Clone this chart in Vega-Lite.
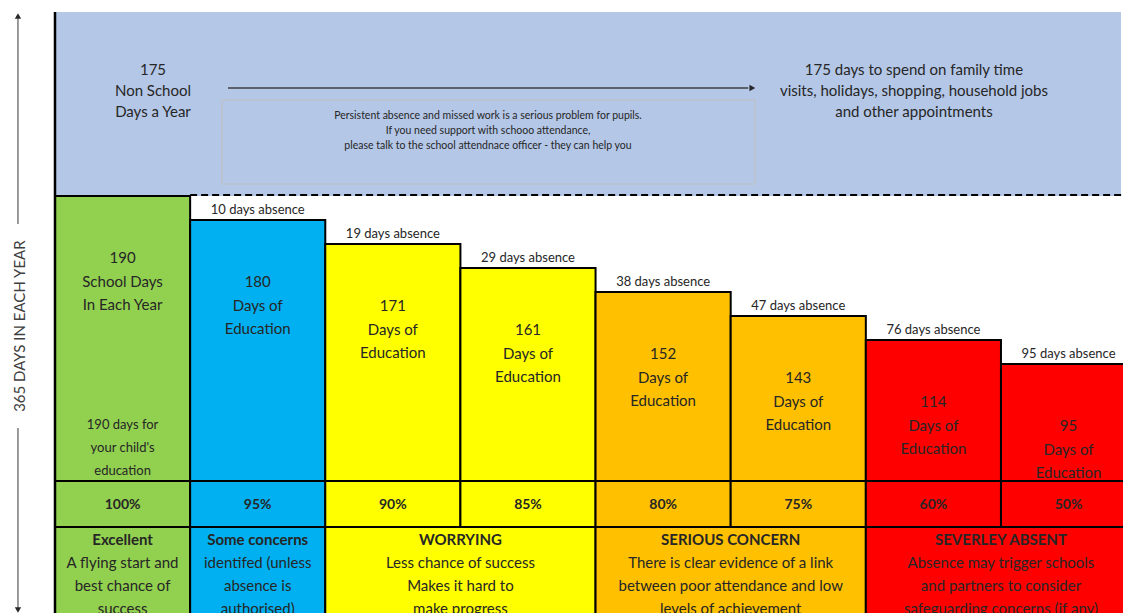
{
  "$schema": "https://vega.github.io/schema/vega-lite/v6.json",
  "autosize": {"type": "fit", "contains": "padding"},
  "width": 1123,
  "height": 613,
  "padding": 0,
  "background": "white",
  "view": {"stroke": null},
  "config": {"font": "Lato", "text": {"color": "#262626", "font": "Lato"}},
  "datasets": {
    "cols": [
      {"col": 0, "level": 0, "days": 190, "band": "Excellent", "pct": "100%", "label": "190\nSchool Days\nIn Each Year", "absence": ""},
      {"col": 1, "level": 1, "days": 180, "band": "Some concerns", "pct": "95%", "label": "180\nDays of\nEducation", "absence": "10 days absence"},
      {"col": 2, "level": 2, "days": 171, "band": "Worrying", "pct": "90%", "label": "171\nDays of\nEducation", "absence": "19 days absence"},
      {"col": 3, "level": 3, "days": 161, "band": "Worrying", "pct": "85%", "label": "161\nDays of\nEducation", "absence": "29 days absence"},
      {"col": 4, "level": 4, "days": 152, "band": "Serious concern", "pct": "80%", "label": "152\nDays of\nEducation", "absence": "38 days absence"},
      {"col": 5, "level": 5, "days": 143, "band": "Serious concern", "pct": "75%", "label": "143\nDays of\nEducation", "absence": "47 days absence"},
      {"col": 6, "level": 6, "days": 114, "band": "Severely absent", "pct": "60%", "label": "114\nDays of\nEducation", "absence": "76 days absence"},
      {"col": 7, "level": 7, "days": 95, "band": "Severely absent", "pct": "50%", "label": "95\nDays of\nEducation", "absence": "95 days absence"}
    ],
    "bands": [
      {"band": "Excellent", "center": 0, "span": 1, "head": "Excellent", "body": "A flying start and\nbest chance of\nsuccess"},
      {"band": "Some concerns", "center": 1, "span": 1, "head": "Some concerns", "body": "identifed (unless\nabsence is\nauthorised)"},
      {"band": "Worrying", "center": 2.5, "span": 2, "head": "WORRYING", "body": "Less chance of success\nMakes it hard to\nmake progress"},
      {"band": "Serious concern", "center": 4.5, "span": 2, "head": "SERIOUS CONCERN", "body": "There is clear evidence of a link\nbetween poor attendance and low\nlevels of achievement"},
      {"band": "Severely absent", "center": 6.5, "span": 2, "head": "SEVERLEY ABSENT", "body": "Absence may trigger schools\nand partners to consider\nsafeguarding concerns (if any)"}
    ],
    "zones": [
      {"zone": "Non school days", "days": 175, "label": "175\nNon School\nDays a Year", "detail": "175 days to spend on family time\nvisits, holidays, shopping, household jobs\nand other appointments", "note": "Persistent absence and missed work is a serious problem for pupils.\nIf you need support with schooo attendance,\nplease talk to the school attendnace officer - they can help you"}
    ]
  },
  "layer": [
    {
      "data": {"name": "zones"},
      "mark": {"type": "rect", "fill": "#B4C7E7"},
      "encoding": {
        "x": {"datum": -0.5, "type": "quantitative", "scale": {"domain": [-0.907, 7.403], "nice": false, "zero": false}, "axis": null},
        "x2": {"datum": 7.388},
        "y": {"datum": -7.667, "type": "quantitative", "scale": {"domain": [-8.1667, 17.375], "nice": false, "zero": false, "reverse": true}, "axis": null},
        "y2": {"datum": 0}
      }
    },
    {
      "data": {"name": "zones"},
      "mark": {"type": "rect", "fill": null, "stroke": "#BFBFBF", "strokeWidth": 1},
      "encoding": {
        "x": {"datum": 0.736, "type": "quantitative"},
        "x2": {"datum": 4.68},
        "y": {"datum": -4.0, "type": "quantitative"},
        "y2": {"datum": -0.5}
      }
    },
    {
      "data": {"name": "zones"},
      "mark": {"type": "rule", "stroke": "#404040", "strokeWidth": 1.5},
      "encoding": {
        "x": {"datum": 0.78, "type": "quantitative"},
        "x2": {"datum": 4.63},
        "y": {"datum": -4.5, "type": "quantitative"}
      }
    },
    {
      "data": {"name": "zones"},
      "mark": {"type": "point", "shape": "triangle-right", "filled": true, "color": "#262626", "size": 45, "opacity": 1},
      "encoding": {
        "x": {"datum": 4.66, "type": "quantitative"},
        "y": {"datum": -4.5, "type": "quantitative"}
      }
    },
    {
      "data": {"name": "zones"},
      "mark": {"type": "rule", "stroke": "#000000", "strokeWidth": 2, "strokeDash": [7, 4], "clip": true},
      "encoding": {
        "x": {"datum": 0.5, "type": "quantitative"},
        "x2": {"datum": 7.403},
        "y": {"datum": -0.04, "type": "quantitative"}
      }
    },
    {
      "data": {"name": "cols"},
      "mark": {"type": "rect", "width": 135.14, "align": "center", "stroke": "#000000", "strokeWidth": 2, "clip": true, "opacity": 1},
      "encoding": {
        "x": {"field": "col", "type": "quantitative"},
        "y": {"field": "level", "type": "quantitative"},
        "y2": {"datum": 11.875},
        "color": {"field": "band", "type": "nominal", "legend": null, "scale": {"domain": ["Excellent", "Some concerns", "Worrying", "Serious concern", "Severely absent"], "range": ["#92D050", "#00B0F0", "#FFFF00", "#FFC000", "#FF0000"]}}
      }
    },
    {
      "data": {"name": "cols"},
      "mark": {"type": "rect", "width": 135.14, "align": "center", "stroke": "#000000", "strokeWidth": 2, "clip": true, "opacity": 1},
      "encoding": {
        "x": {"field": "col", "type": "quantitative"},
        "y": {"datum": 11.875, "type": "quantitative"},
        "y2": {"datum": 13.79},
        "color": {"field": "band", "type": "nominal", "legend": null}
      }
    },
    {
      "data": {"name": "bands"},
      "transform": [{"filter": "datum.span == 1"}],
      "mark": {"type": "rect", "width": 135.14, "align": "center", "stroke": "#000000", "strokeWidth": 2, "clip": true, "opacity": 1},
      "encoding": {
        "x": {"field": "center", "type": "quantitative"},
        "y": {"datum": 13.79, "type": "quantitative"},
        "y2": {"datum": 18.1},
        "color": {"field": "band", "type": "nominal", "legend": null}
      }
    },
    {
      "data": {"name": "bands"},
      "transform": [{"filter": "datum.span == 2"}],
      "mark": {"type": "rect", "width": 270.28, "align": "center", "stroke": "#000000", "strokeWidth": 2, "clip": true, "opacity": 1},
      "encoding": {
        "x": {"field": "center", "type": "quantitative"},
        "y": {"datum": 13.79, "type": "quantitative"},
        "y2": {"datum": 18.1},
        "color": {"field": "band", "type": "nominal", "legend": null}
      }
    },
    {
      "data": {"name": "zones"},
      "mark": {"type": "rule", "stroke": "#000000", "strokeWidth": 2.5, "clip": true},
      "encoding": {
        "x": {"datum": -0.5, "type": "quantitative"},
        "y": {"datum": -7.667, "type": "quantitative"},
        "y2": {"datum": 18.1}
      }
    },
    {
      "data": {"name": "zones"},
      "mark": {"type": "rule", "stroke": "#595959", "strokeWidth": 1.2},
      "encoding": {
        "x": {"datum": -0.774, "type": "quantitative"},
        "y": {"datum": -7.4, "type": "quantitative"},
        "y2": {"datum": 1.167}
      }
    },
    {
      "data": {"name": "zones"},
      "mark": {"type": "rule", "stroke": "#595959", "strokeWidth": 1.2, "clip": true},
      "encoding": {
        "x": {"datum": -0.774, "type": "quantitative"},
        "y": {"datum": 9.67, "type": "quantitative"},
        "y2": {"datum": 17.2}
      }
    },
    {
      "data": {"name": "zones"},
      "mark": {"type": "point", "shape": "triangle-up", "filled": true, "color": "#262626", "size": 40, "opacity": 1},
      "encoding": {
        "x": {"datum": -0.774, "type": "quantitative"},
        "y": {"datum": -7.5, "type": "quantitative"}
      }
    },
    {
      "data": {"name": "zones"},
      "mark": {"type": "point", "shape": "triangle-down", "filled": true, "color": "#262626", "size": 40, "opacity": 1, "clip": true},
      "encoding": {
        "x": {"datum": -0.774, "type": "quantitative"},
        "y": {"datum": 17.25, "type": "quantitative"}
      }
    },
    {
      "data": {"name": "zones"},
      "mark": {"type": "text", "text": "365 DAYS IN EACH YEAR", "angle": 270, "align": "center", "baseline": "middle", "fontSize": 15, "color": "#404040"},
      "encoding": {
        "x": {"datum": -0.759, "type": "quantitative"},
        "y": {"datum": 5.42, "type": "quantitative"}
      }
    },
    {
      "data": {"name": "zones"},
      "mark": {"type": "text", "align": "center", "baseline": "top", "fontSize": 15, "lineBreak": "\n", "lineHeight": 21},
      "encoding": {
        "x": {"datum": 0.225, "type": "quantitative"},
        "y": {"datum": -5.53, "type": "quantitative"},
        "text": {"field": "label"}
      }
    },
    {
      "data": {"name": "zones"},
      "mark": {"type": "text", "align": "center", "baseline": "top", "fontSize": 15, "lineBreak": "\n", "lineHeight": 21},
      "encoding": {
        "x": {"datum": 5.856, "type": "quantitative"},
        "y": {"datum": -5.55, "type": "quantitative"},
        "text": {"field": "detail"}
      }
    },
    {
      "data": {"name": "zones"},
      "mark": {"type": "text", "align": "center", "baseline": "top", "fontSize": 10.5, "lineBreak": "\n", "lineHeight": 15},
      "encoding": {
        "x": {"datum": 2.704, "type": "quantitative"},
        "y": {"datum": -3.55, "type": "quantitative"},
        "text": {"field": "note"}
      }
    },
    {
      "data": {"name": "cols"},
      "transform": [{"filter": "datum.absence != ''"}],
      "mark": {"type": "text", "align": "center", "baseline": "middle", "fontSize": 13, "dy": -10, "clip": true},
      "encoding": {
        "x": {"field": "col", "type": "quantitative"},
        "y": {"field": "level", "type": "quantitative"},
        "text": {"field": "absence"}
      }
    },
    {
      "data": {"name": "cols"},
      "mark": {"type": "text", "align": "center", "baseline": "top", "fontSize": 15, "dy": 55, "lineBreak": "\n", "lineHeight": 23.5, "clip": true},
      "encoding": {
        "x": {"field": "col", "type": "quantitative"},
        "y": {"field": "level", "type": "quantitative"},
        "text": {"field": "label"}
      }
    },
    {
      "data": {"values": [{"band": "Excellent", "note": "190 days for\nyour child's\neducation"}]},
      "mark": {"type": "text", "align": "center", "baseline": "top", "fontSize": 13, "lineBreak": "\n", "lineHeight": 23},
      "encoding": {
        "x": {"datum": 0, "type": "quantitative"},
        "y": {"datum": 9.28, "type": "quantitative"},
        "text": {"field": "note"}
      }
    },
    {
      "data": {"name": "cols"},
      "mark": {"type": "text", "align": "center", "baseline": "middle", "fontSize": 14, "fontWeight": "bold", "clip": true},
      "encoding": {
        "x": {"field": "col", "type": "quantitative"},
        "y": {"datum": 12.875, "type": "quantitative"},
        "text": {"field": "pct"}
      }
    },
    {
      "data": {"name": "bands"},
      "mark": {"type": "text", "align": "center", "baseline": "middle", "fontSize": 15, "fontWeight": "bold", "clip": true},
      "encoding": {
        "x": {"field": "center", "type": "quantitative"},
        "y": {"datum": 14.35, "type": "quantitative"},
        "text": {"field": "head"}
      }
    },
    {
      "data": {"name": "bands"},
      "mark": {"type": "text", "align": "center", "baseline": "top", "fontSize": 15, "lineBreak": "\n", "lineHeight": 23, "clip": true},
      "encoding": {
        "x": {"field": "center", "type": "quantitative"},
        "y": {"datum": 15.02, "type": "quantitative"},
        "text": {"field": "body"}
      }
    }
  ]
}
